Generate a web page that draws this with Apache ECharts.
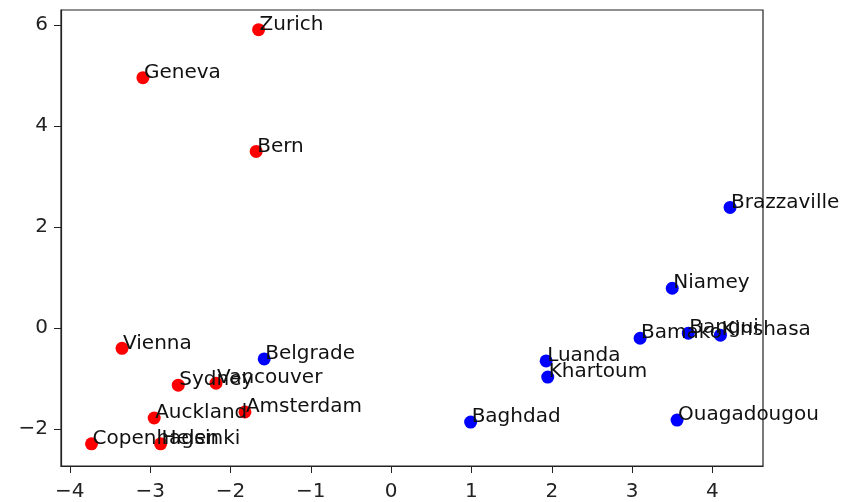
<!DOCTYPE html>
<html>
<head>
<meta charset="utf-8">
<script src="https://cdn.jsdelivr.net/npm/echarts@6/dist/echarts.min.js"></script>
<style>html,body{margin:0;padding:0;background:#fff}#c{width:846px;height:502px}</style>
</head>
<body>
<div id="c"></div>
<script>
// Red group
var redNames = ['Zurich','Geneva','Bern','Vienna','Sydney','Vancouver','Auckland','Amsterdam','Copenhagen','Helsinki'];
var redX = [-1.65,-3.09,-1.68,-3.35,-2.65,-2.18,-2.95,-1.82,-3.73,-2.87];
var redY = [5.91,4.96,3.50,-0.40,-1.13,-1.09,-1.78,-1.66,-2.29,-2.29];
// Blue group
var blueNames = ['Brazzaville','Niamey','Bamako','Bangui','Kinshasa','Luanda','Khartoum','Baghdad','Ouagadougou','Belgrade'];
var blueX = [4.22,3.50,3.10,3.70,4.10,1.93,1.95,0.99,3.56,-1.58];
var blueY = [2.39,0.79,-0.20,-0.10,-0.14,-0.65,-0.97,-1.86,-1.82,-0.61];
// Tick labels
var xTicks = [-4,-3,-2,-1,0,1,2,3,4];
var yTicks = [-2,0,2,4,6];

function build(names, xs, ys){
  return names.map(function(n,i){ return {name:n, value:[xs[i], ys[i]]}; });
}
var FONT = 'DejaVu Sans';
var FS = 20;
function fmt(v){ return String(v).replace('-', '\u2212'); }
var labelCfg = {
  show:true, position:'inside', align:'left', verticalAlign:'bottom',
  offset:[1,5], color:'#111', fontFamily:FONT, fontSize:FS,
  formatter:function(p){return p.name;}
};
var chart = echarts.init(document.getElementById('c'), null, {renderer:'canvas'});
chart.setOption({
  animation:false,
  backgroundColor:'#fff',
  grid:{left:61, right:83, top:10, bottom:35, show:true, borderColor:'#222', borderWidth:1.2, containLabel:false},
  xAxis:{
    type:'value', min:-4.11, max:4.63,
    axisLine:{show:true, onZero:false, lineStyle:{color:'#222', width:1.2}},
    axisTick:{show:true, inside:false, length:7, lineStyle:{color:'#222'}, customValues:xTicks},
    axisLabel:{show:true, customValues:xTicks, formatter:fmt, color:'#222', fontFamily:FONT, fontSize:FS, margin:16},
    splitLine:{show:false}
  },
  yAxis:{
    type:'value', min:-2.73, max:6.30,
    axisLine:{show:true, onZero:false, lineStyle:{color:'#222', width:1.2}},
    axisTick:{show:true, inside:false, length:7, lineStyle:{color:'#222'}, customValues:yTicks},
    axisLabel:{show:true, customValues:yTicks, formatter:fmt, color:'#222', fontFamily:FONT, fontSize:FS, margin:13},
    splitLine:{show:false}
  },
  series:[
    {type:'scatter', symbolSize:13, itemStyle:{color:'#ff0000', opacity:1}, data:build(redNames, redX, redY), label:labelCfg, clip:false, emphasis:{disabled:true}},
    {type:'scatter', symbolSize:13, itemStyle:{color:'#0000ff', opacity:1}, data:build(blueNames, blueX, blueY), label:labelCfg, clip:false, emphasis:{disabled:true}}
  ]
});
</script>
</body>
</html>
